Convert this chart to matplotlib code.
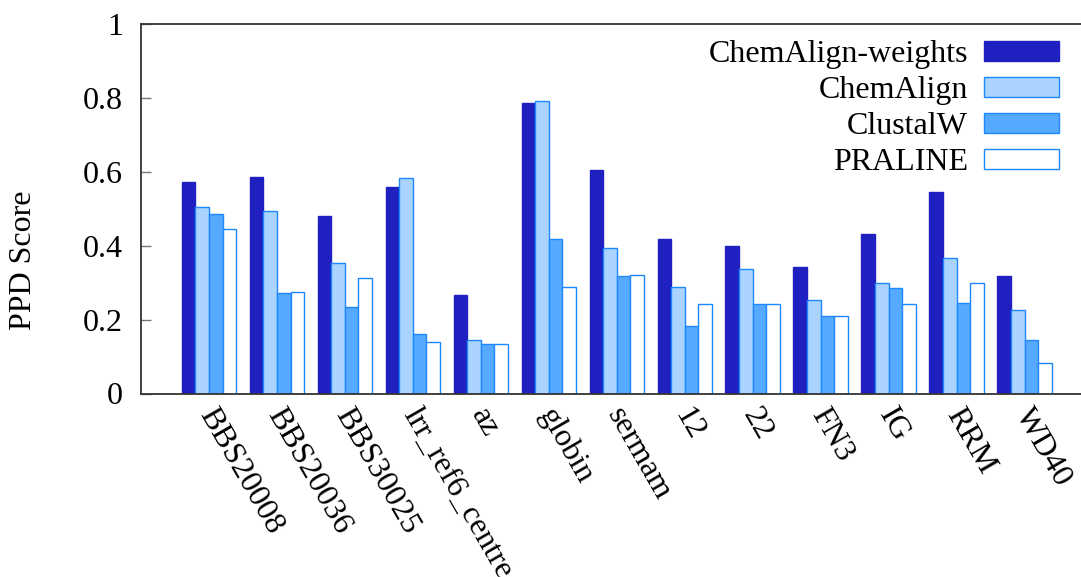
import numpy as np
import matplotlib
matplotlib.use("Agg")
import matplotlib.pyplot as plt
import matplotlib.transforms as mtransforms

plt.rcParams['font.family'] = ['Liberation Serif', 'DejaVu Serif']

# data
families = ["BBS20008", "BBS20036", "BBS30025", "lrr_ref6_centre", "az", "globin",
            "sermam", "12", "22", "FN3", "IG", "RRM", "WD40"]
chemalign_weights = [0.573, 0.587, 0.480, 0.560, 0.266, 0.786, 0.606, 0.418, 0.399, 0.342, 0.431, 0.545, 0.318]
chemalign = [0.504, 0.495, 0.352, 0.582, 0.146, 0.791, 0.393, 0.289, 0.336, 0.252, 0.300, 0.368, 0.227]
clustalw = [0.485, 0.271, 0.233, 0.160, 0.133, 0.417, 0.318, 0.183, 0.241, 0.211, 0.286, 0.246, 0.145]
praline = [0.444, 0.275, 0.312, 0.139, 0.133, 0.289, 0.321, 0.242, 0.241, 0.210, 0.241, 0.298, 0.083]
method_names = ["ChemAlign-weights", "ChemAlign", "ClustalW", "PRALINE"]
y_ticks = [0, 0.2, 0.4, 0.6, 0.8, 1]
y_tick_labels = ["0", "0.2", "0.4", "0.6", "0.8", "1"]

W, H = 1081, 577
fs = 23
fig = plt.figure(figsize=(W / 100, H / 100), dpi=100)
ax = fig.add_axes([141 / W, 1 - 393.5 / H, 951.5 / W, 369.5 / H])

x = np.arange(len(families))
bw = 0.2
edge = '#1e88ff'
series = [chemalign_weights, chemalign, clustalw, praline]
faces = ['#2020c0', '#aad4ff', '#55aaff', '#ffffff']
edges = ['#2020c0', edge, edge, edge]
for k, vals in enumerate(series):
    ax.bar(x + (k - 1.5) * bw, vals, bw, color=faces[k], edgecolor=edges[k],
           linewidth=1.0, label=method_names[k])

ax.set_xlim(-1, 13)
ax.set_ylim(0, 1)

ax.set_yticks(y_ticks)
ax.set_yticklabels(y_tick_labels)
ax.tick_params(axis='y', direction='in', length=7, width=1, color='#777777',
               labelsize=fs, pad=13)
ax.set_xticks(x)
ax.set_xticklabels(families, rotation=-60, ha='left', va='top', rotation_mode='anchor')
ax.tick_params(axis='x', length=0, labelsize=fs, pad=7)
shift = mtransforms.ScaledTranslation(9 / 100, 0, fig.dpi_scale_trans)
for lab in ax.get_xticklabels():
    lab.set_transform(lab.get_transform() + shift)

for s in ['left', 'top', 'bottom']:
    ax.spines[s].set_color('#333333')
    ax.spines[s].set_linewidth(1.3)
ax.spines['right'].set_visible(False)

ax.set_ylabel("PPD Score", fontsize=fs)
ax.yaxis.set_label_coords((38 - 141) / 951.5, (393.5 - 260) / 369.5)

ax.legend(loc='upper right', bbox_to_anchor=(1075 / W, 1 - 24 / H),
          bbox_transform=fig.transFigure, frameon=False, markerfirst=False,
          borderpad=0, handlelength=2.35, handleheight=0.6, handletextpad=0.5,
          labelspacing=0.22, fontsize=fs)

fig.savefig("out.png", dpi=100)
